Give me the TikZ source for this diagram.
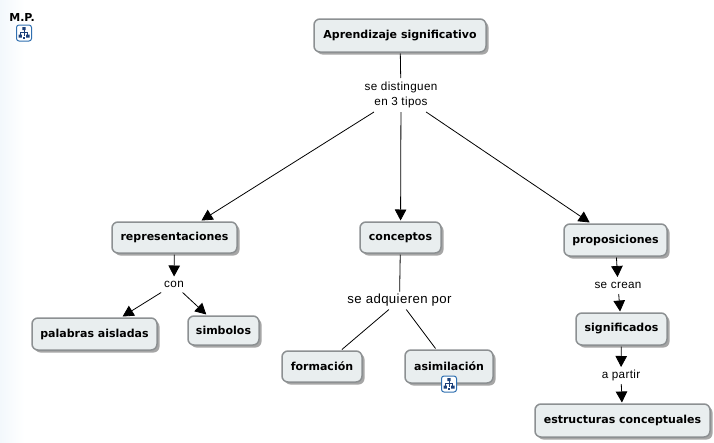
\documentclass[tikz,border=0pt]{standalone}
\usepackage{fontspec}
\usetikzlibrary{arrows.meta,shadows}
\setmainfont{Liberation Sans}
\newfontfamily\boxfont{DejaVu Sans}
\newfontfamily\labfont[LetterSpace=3]{Liberation Sans}
\definecolor{boxfill}{HTML}{E9EEEF}
\definecolor{boxline}{HTML}{8C9092}
\definecolor{iconblue}{HTML}{2F6FB0}
\definecolor{iconnavy}{HTML}{1C3F78}
\definecolor{edgetint}{HTML}{F3F8FC}
\tikzset{
  x=1pt,y=-1pt,
  concept/.style={draw=boxline,line width=1.5pt,fill=boxfill,rounded corners=6pt,
    inner sep=0pt,outer sep=1.5pt,align=center,font=\boxfont\fontsize{11}{13}\selectfont\bfseries,
    drop shadow={shadow xshift=2.5pt,shadow yshift=-2.5pt,fill=black!35,opacity=1}},
  linker/.style={inner sep=0pt,outer sep=0pt,align=center,font=\labfont\fontsize{11.7}{15}\selectfont},
  link/.style={draw=black,line width=.8pt},
  arrowed/.style={link,-{Triangle[length=11pt,width=11.5pt]}},
}
\newcommand{\mapicon}[3]{%
  \node[draw=iconblue,line width=1pt,fill=white,rounded corners=2.5pt,minimum width=15pt,minimum height=16pt,inner sep=0pt] (#1) at (#2,#3) {};
  \begin{scope}[shift={(#2,#3)},line width=.7pt,iconnavy]
    \draw (0,-4) -- (0,-1) (-3.8,2) -- (-3.8,-1) -- (3.8,-1) -- (3.8,2) (0,-1) -- (0,3);
    \fill (-1.7,-6) rectangle (1.7,-3) (-5.5,1.5) rectangle (-2.2,4.5) (2.2,1.5) rectangle (5.5,4.5);
    \fill (-1.4,3.5) rectangle (1.4,6);
  \end{scope}}
\begin{document}
\begin{tikzpicture}
\useasboundingbox (0,0) rectangle (714,442);
\fill[white] (0,0) rectangle (714,442);
\shade[left color=edgetint,right color=white] (0,0) rectangle (24,442);

\node[font=\boxfont\fontsize{11}{12}\selectfont\bfseries,inner sep=0pt] (mp) at (22,17) {M.P.};
\mapicon{mpicon}{24}{33}

\node[concept,minimum width=172pt,minimum height=33pt] (apr) at (400,35.5) {Aprendizaje significativo};
\node[concept,minimum width=125pt,minimum height=31pt] (rep) at (174.5,237.5) {representaciones};
\node[concept,minimum width=81pt,minimum height=31pt] (con) at (400.5,237.5) {conceptos};
\node[concept,minimum width=103pt,minimum height=32pt] (pro) at (615.5,240) {proposiciones};
\node[concept,minimum width=125pt,minimum height=32pt] (pal) at (94.5,334) {palabras aisladas};
\node[concept,minimum width=71pt,minimum height=29pt] (sim) at (223.5,330.5) {simbolos};
\node[concept,minimum width=80pt,minimum height=31pt] (for) at (322,366.5) {formación};
\node[concept,minimum width=88pt,minimum height=33pt] (asi) at (449,366.5) {asimilación};
\node[concept,minimum width=91pt,minimum height=32pt] (sig) at (621.5,329) {significados};
\node[concept,minimum width=175pt,minimum height=33pt] (est) at (622.5,420.5) {estructuras conceptuales};

\mapicon{asiicon}{449}{384}

\node[linker,minimum width=80pt,minimum height=34pt] (l1) at (401,95) {se distinguen\\en 3 tipos};
\node[linker,minimum width=30pt,minimum height=16pt] (l2) at (174,284.5) {con};
\node[linker,minimum width=110pt,minimum height=18pt,font=\labfont\fontsize{13.2}{15}\selectfont] (l3) at (399.5,300.5) {se adquieren por};
\node[linker,minimum width=50pt,minimum height=17pt] (l4) at (618,285.5) {se crean};
\node[linker,minimum width=40pt,minimum height=17pt] (l5) at (621,375.5) {a partir};

\draw[link] (apr) -- (l1);
\draw[arrowed] (l1) -- (rep);
\draw[arrowed] (l1) -- (con);
\draw[arrowed] (l1) -- (pro);
\draw[arrowed] (rep) -- (l2);
\draw[arrowed] (l2) -- (pal);
\draw[arrowed] (l2) -- (sim);
\draw[link] (con) -- (l3);
\draw[link] (l3) -- (for);
\draw[link] (l3) -- (asi);
\draw[arrowed] (pro) -- (l4);
\draw[arrowed] (l4) -- (sig);
\draw[arrowed] (sig) -- (l5);
\draw[arrowed] (l5) -- (est);
\end{tikzpicture}
\end{document}
